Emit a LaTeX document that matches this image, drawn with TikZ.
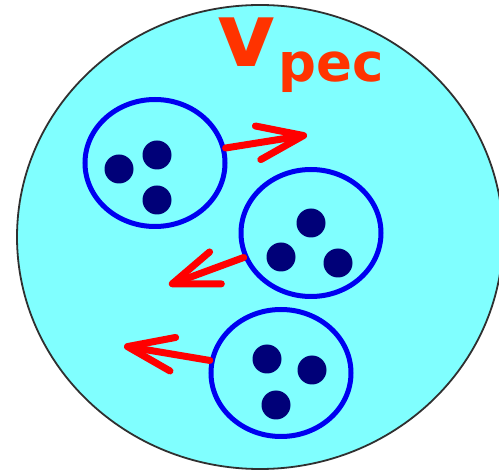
\documentclass[tikz,border=0pt]{standalone}
\usepackage{fontspec}
\newfontfamily\labfont{DejaVu Sans}
\usetikzlibrary{shapes.geometric,arrows.meta}
\definecolor{skyfill}{HTML}{80FFFF}
\definecolor{rimgray}{HTML}{303030}
\definecolor{ringblue}{HTML}{0000F0}
\definecolor{dotnavy}{HTML}{000078}
\definecolor{arrred}{HTML}{FF0000}
\definecolor{txtred}{HTML}{FF3300}
\tikzset{
  cluster/.style={ellipse, draw=ringblue, line width=5pt, minimum width=140pt, minimum height=127pt, inner sep=0pt},
  galaxy/.style={circle, fill=dotnavy, minimum size=29pt, inner sep=0pt},
  velarrow/.style={draw=arrred, line width=7pt, line cap=round, -{Straight Barb[length=46pt,width=34pt,round]}},
  lab/.style={text=txtred, inner sep=0pt, font=\labfont\bfseries}
}
\begin{document}
\begin{tikzpicture}[x=1pt,y=-1pt]
\useasboundingbox (0,0) rectangle (499,473);
\node[ellipse, draw=rimgray, fill=skyfill, line width=1.8pt, minimum width=486pt, minimum height=464pt, inner sep=0pt] (universe) at (260,237) {};
\node[lab, font=\labfont\bfseries\fontsize{89}{89}\selectfont, anchor=base] (v) at (247,67) {v};
\node[lab, font=\labfont\bfseries\fontsize{53}{53}\selectfont, anchor=base] (pec) at (331,82) {pec};
\node[cluster] (c1) at (155,163) {};
\node[cluster] (c2) at (311,233) {};
\node[cluster] (c3) at (281,373) {};
\node[galaxy] (g11) at (119,169) {};
\node[galaxy] (g12) at (157,155) {};
\node[galaxy] (g13) at (157,200) {};
\node[galaxy] (g21) at (311,223) {};
\node[galaxy] (g22) at (281,257) {};
\node[galaxy] (g23) at (338,263) {};
\node[galaxy] (g31) at (267,359) {};
\node[galaxy] (g32) at (312,370) {};
\node[galaxy] (g33) at (276,405) {};
\coordinate (t1) at (307,135);
\coordinate (t2) at (169,285);
\coordinate (t3) at (124,346);
\draw[velarrow] (c1.12) -- (t1);
\draw[velarrow] (c2.200) -- (t2);
\draw[velarrow] (c3.170) -- (t3);
\end{tikzpicture}
\end{document}
